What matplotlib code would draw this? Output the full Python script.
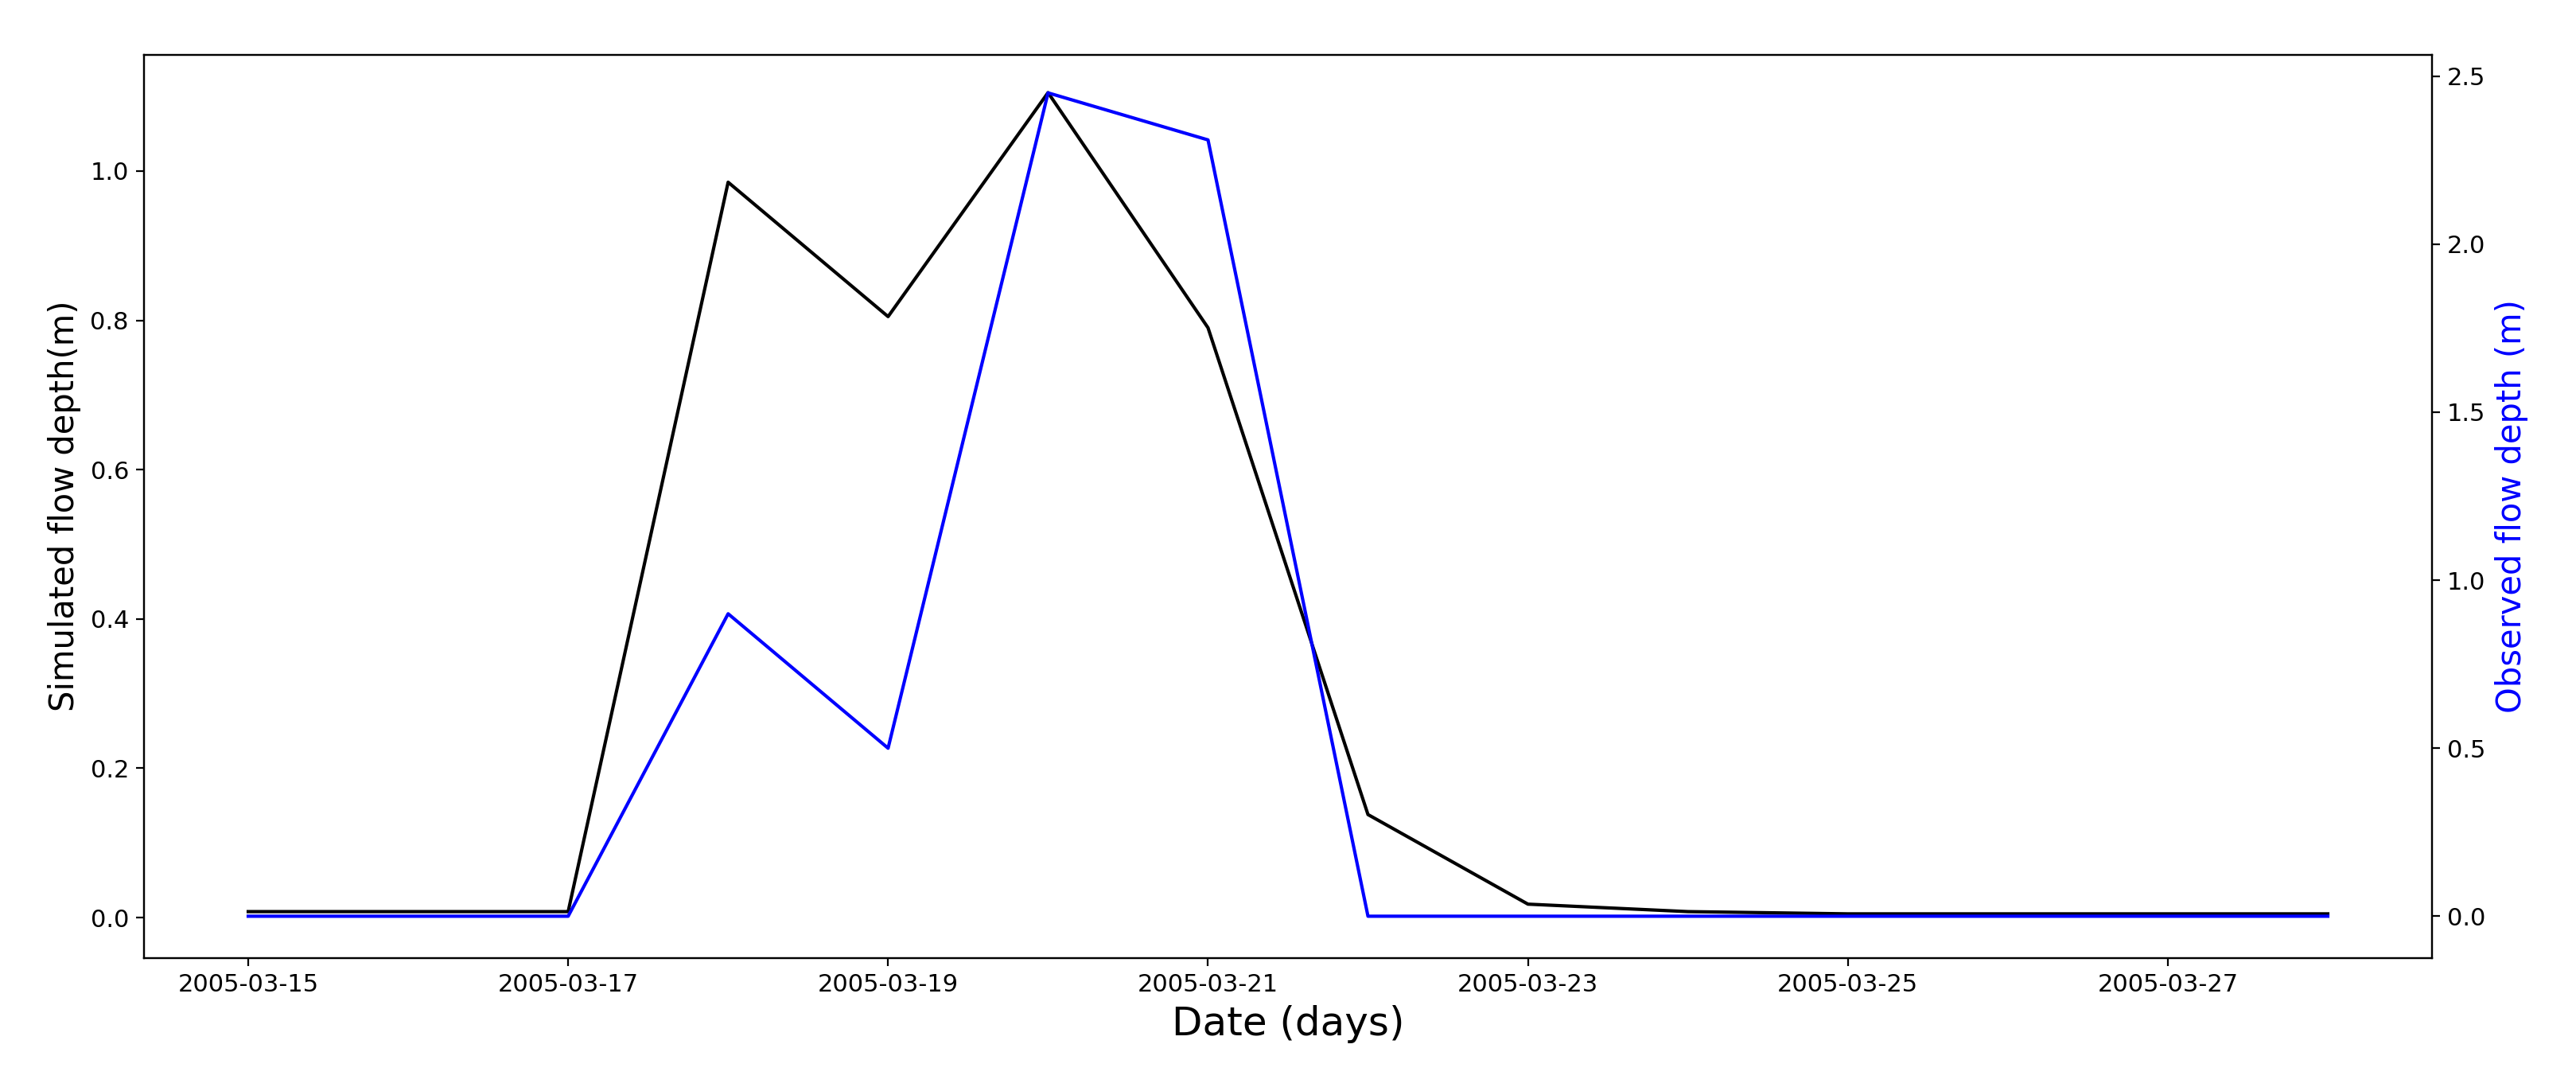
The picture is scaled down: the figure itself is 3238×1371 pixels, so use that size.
import numpy as np
import pandas as pd
import matplotlib.pyplot as plt
import matplotlib.dates as mdates

dates = pd.date_range("2005-03-15", "2005-03-28", freq="D")
simulated = [0.008, 0.008, 0.008, 0.985, 0.805, 1.105, 0.79, 0.138, 0.018, 0.008, 0.005, 0.005, 0.005, 0.005]
observed = [0.0, 0.0, 0.0, 0.90, 0.50, 2.45, 2.31, 0.0, 0.0, 0.0, 0.0, 0.0, 0.0, 0.0]

fig, ax = plt.subplots(figsize=(16.19, 6.855), dpi=200)
fig.subplots_adjust(left=0.056, right=0.944, top=0.95, bottom=0.122)

ax.plot(dates, simulated, color="black", lw=1.5)
ax.set_ylabel("Simulated flow depth(m)", fontsize=15)
ax.set_xlabel("Date (days)", fontsize=18)
ax.set_ylim(-0.054, 1.156)
ax.set_xticks(pd.date_range("2005-03-15", "2005-03-27", freq="2D"))
ax.xaxis.set_major_formatter(mdates.DateFormatter("%Y-%m-%d"))
ax.tick_params(labelsize=11)

ax2 = ax.twinx()
ax2.plot(dates, observed, color="blue", lw=1.5)
ax2.set_ylabel("Observed flow depth (m)", fontsize=15, color="blue")
ax2.set_ylim(-0.124, 2.564)
ax2.tick_params(labelsize=11)

fig.savefig("out.png", dpi=200)
